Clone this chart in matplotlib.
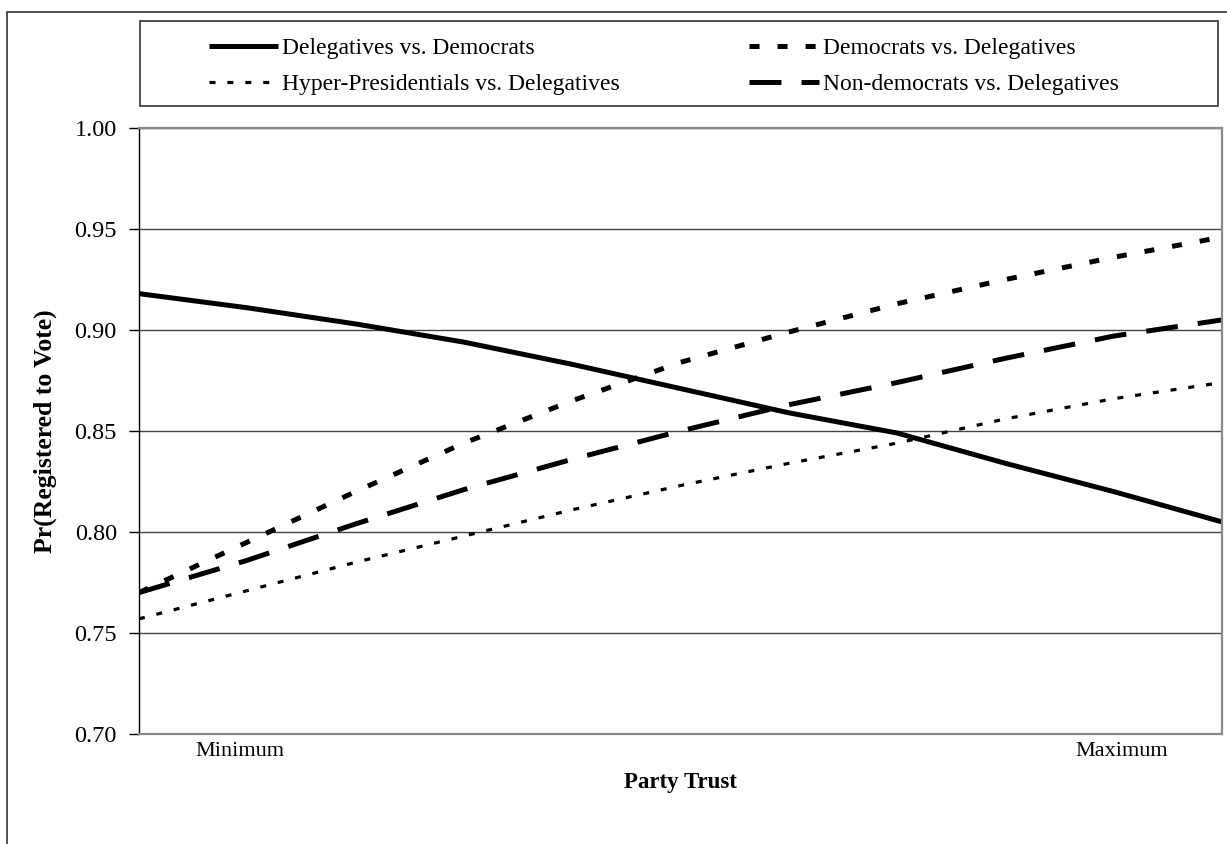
import numpy as np
import matplotlib
matplotlib.use('Agg')
import matplotlib.pyplot as plt
from matplotlib.patches import Rectangle

plt.rcParams['font.family'] = ['Liberation Serif', 'DejaVu Serif']
plt.rcParams['lines.scale_dashes'] = False

# x runs from minimum (0) to maximum (1) party trust
trust = [0.0, 0.1, 0.2, 0.3, 0.4, 0.5, 0.6, 0.7, 0.8, 0.9, 1.0]

deleg_vs_dem = [0.918, 0.911, 0.903, 0.894, 0.883, 0.871, 0.859, 0.849, 0.834, 0.820, 0.805]
dem_vs_deleg = [0.770, 0.795, 0.820, 0.844, 0.865, 0.884, 0.899, 0.913, 0.925, 0.936, 0.946]
hyper_vs_deleg = [0.757, 0.771, 0.785, 0.798, 0.811, 0.823, 0.834, 0.844, 0.856, 0.866, 0.874]
nondem_vs_deleg = [0.770, 0.786, 0.804, 0.821, 0.836, 0.850, 0.863, 0.874, 0.886, 0.897, 0.905]

yticks = [0.70, 0.75, 0.80, 0.85, 0.90, 0.95, 1.00]
xtick_labels = ['Minimum', 'Maximum']

fig = plt.figure(figsize=(12.27, 8.44), dpi=100)
ax = fig.add_axes([139 / 1227, 1 - 734 / 844, 1083 / 1227, 606 / 844])

# outer chart border (Excel chart area)
fig.patches.append(Rectangle((7 / 1227, -0.2), 1.2, 1.2 - 12 / 844,
                             transform=fig.transFigure, fill=False,
                             edgecolor='#333333', linewidth=1.2))

l1, = ax.plot(trust, deleg_vs_dem, color='black', linewidth=3.6,
              solid_capstyle='butt', label='Delegatives vs. Democrats')
l2, = ax.plot(trust, dem_vs_deleg, color='black', linewidth=3.6,
              linestyle=(0, (7.2, 13)), dash_capstyle='butt',
              label='Democrats vs. Delegatives')
l3, = ax.plot(trust, hyper_vs_deleg, color='black', linewidth=2.3,
              linestyle=(0, (4.3, 8.6)), dash_capstyle='butt',
              label='Hyper-Presidentials vs. Delegatives')
l4, = ax.plot(trust, nondem_vs_deleg, color='black', linewidth=3.6,
              linestyle=(0, (23, 14.5)), dash_capstyle='butt',
              label='Non-democrats vs. Delegatives')

ax.set_xlim(0, 1)
ax.set_ylim(0.70, 1.00)
ax.set_yticks(yticks)
ax.set_yticklabels(['%.2f' % v for v in yticks])
ax.set_xticks([0.093, 0.907])
ax.set_xticklabels(xtick_labels)
ax.tick_params(axis='y', direction='out', length=7, width=1, pad=9,
               labelsize=17.5, colors='black')
ax.tick_params(axis='x', length=0, pad=6, labelsize=16)

ax.grid(True, axis='y', color='#444444', linewidth=1)
ax.set_axisbelow(True)
for side in ['top', 'right', 'bottom']:
    ax.spines[side].set_color('#8a8a8a')
    ax.spines[side].set_linewidth(1.6)
ax.spines['left'].set_color('black')
ax.spines['left'].set_linewidth(1)

ax.set_xlabel('Party Trust', fontsize=16.5, fontweight='bold', labelpad=8)
ax.set_ylabel('Pr(Registered to Vote)', fontsize=18.5, fontweight='bold')
ax.yaxis.set_label_coords(-0.0757, 0.5)

# legend box
fig.patches.append(Rectangle((140 / 1227, 1 - 106 / 844), 1078 / 1227, 85 / 844,
                             transform=fig.transFigure, fill=False,
                             edgecolor='#333333', linewidth=1.2))
fig.legend(handles=[l1, l3, l2, l4], loc='center left', ncol=2,
           bbox_to_anchor=(197 / 1227, 1 - 66.5 / 844), frameon=False,
           fontsize=17, handlelength=2.95, handletextpad=0.17,
           columnspacing=5.45, labelspacing=0.62, borderpad=0)

fig.savefig('out.png', dpi=100)
